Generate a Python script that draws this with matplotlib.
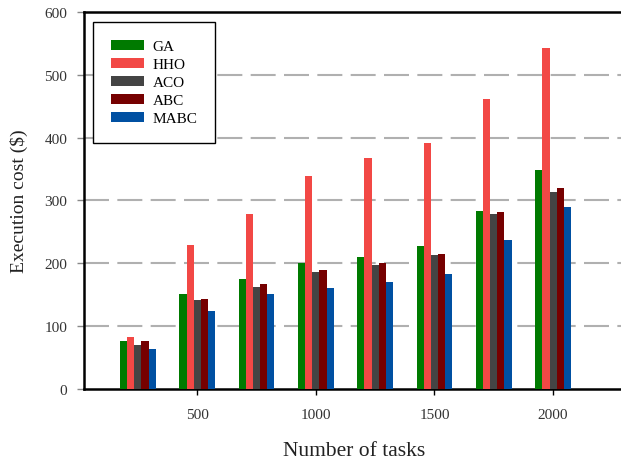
import matplotlib
matplotlib.use("Agg")
import matplotlib.pyplot as plt
import numpy as np

tasks = [250, 500, 750, 1000, 1250, 1500, 1750, 2000]
series_names = ["GA", "HHO", "ACO", "ABC", "MABC"]
GA = [76, 151, 175, 200, 210, 227, 284, 348]
HHO = [82, 229, 278, 339, 367, 391, 461, 542]
ACO = [70, 142, 163, 186, 198, 213, 278, 314]
ABC = [76, 144, 167, 189, 200, 215, 281, 320]
MABC = [64, 124, 151, 161, 171, 183, 237, 289]
xtick_vals = [500, 1000, 1500, 2000]
ytick_vals = [0, 100, 200, 300, 400, 500, 600]

colors = ["#007a00", "#f24845", "#444444", "#760000", "#0050a2"]
data = [GA, HHO, ACO, ABC, MABC]

plt.rcParams['font.family'] = ['Liberation Serif', 'DejaVu Serif']

fig = plt.figure(figsize=(6.21, 4.64), dpi=100)
ax = fig.add_axes([84/621, 74/464, 541/621, 377/464])

bw = 30
x = np.array(tasks, dtype=float)
for i, (name, vals, c) in enumerate(zip(series_names, data, colors)):
    ax.bar(x + (i - 2) * bw, vals, width=bw, color=c, label=name, zorder=3, linewidth=0)

ax.set_xlim(23, 2303)
ax.set_ylim(0, 600)
ax.set_xticks(xtick_vals)
ax.set_xticklabels([str(v) for v in xtick_vals])
ax.set_yticks(ytick_vals)

for yv in ytick_vals[1:-1]:
    ax.axhline(yv, color="#b0b0b0", linewidth=1.5, linestyle=(0, (12, 4)), zorder=1)

for s in ax.spines.values():
    s.set_linewidth(1.8)
    s.set_color("black")

ax.tick_params(axis='y', direction='out', length=5, width=1, color='#888888',
               labelsize=11, labelcolor='#333333', pad=7)
ax.tick_params(axis='x', direction='out', length=4, width=1, color='black',
               labelsize=11, labelcolor='#333333', pad=10)

ax.set_xlabel("Number of tasks", fontsize=15.5, color="#222222", labelpad=14)
ax.set_ylabel("Execution cost ($)", fontsize=14, color="#222222", labelpad=12)

leg = ax.legend(loc='upper left', bbox_to_anchor=(0.0166, 0.973), fontsize=11,
                frameon=True, fancybox=False, edgecolor='black', framealpha=1,
                handlelength=2.2, handleheight=0.65, borderpad=1.15, labelspacing=0.3,
                handletextpad=0.55, borderaxespad=0)
leg.get_frame().set_linewidth(1.0)

fig.savefig("out.png", dpi=100)
